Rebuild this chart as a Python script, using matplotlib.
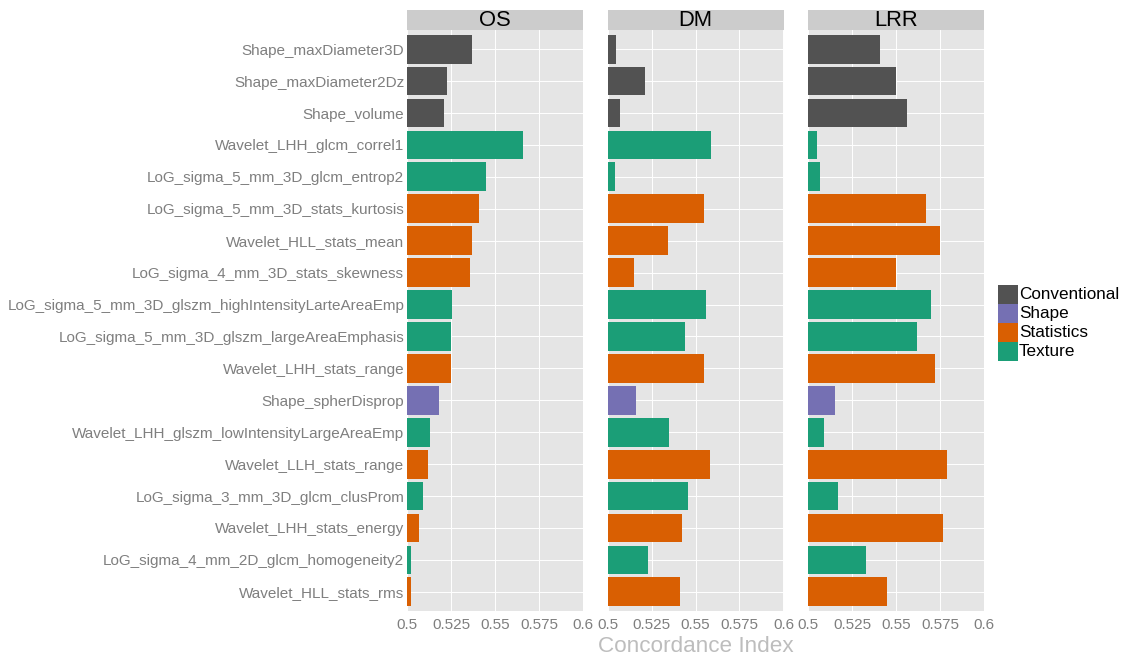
import numpy as np
import matplotlib
matplotlib.use("Agg")
import matplotlib.pyplot as plt
from matplotlib.patches import Rectangle

plt.rcParams["font.family"] = ["Liberation Sans", "DejaVu Sans"]

features = [
    "Shape_maxDiameter3D",
    "Shape_maxDiameter2Dz",
    "Shape_volume",
    "Wavelet_LHH_glcm_correl1",
    "LoG_sigma_5_mm_3D_glcm_entrop2",
    "LoG_sigma_5_mm_3D_stats_kurtosis",
    "Wavelet_HLL_stats_mean",
    "LoG_sigma_4_mm_3D_stats_skewness",
    "LoG_sigma_5_mm_3D_glszm_highIntensityLarteAreaEmp",
    "LoG_sigma_5_mm_3D_glszm_largeAreaEmphasis",
    "Wavelet_LHH_stats_range",
    "Shape_spherDisprop",
    "Wavelet_LHH_glszm_lowIntensityLargeAreaEmp",
    "Wavelet_LLH_stats_range",
    "LoG_sigma_3_mm_3D_glcm_clusProm",
    "Wavelet_LHH_stats_energy",
    "LoG_sigma_4_mm_2D_glcm_homogeneity2",
    "Wavelet_HLL_stats_rms",
]

groups = [
    "Conventional", "Conventional", "Conventional",
    "Texture", "Texture",
    "Statistics", "Statistics", "Statistics",
    "Texture", "Texture",
    "Statistics",
    "Shape",
    "Texture",
    "Statistics",
    "Texture",
    "Statistics",
    "Texture",
    "Statistics",
]

os_cindex = [0.5369, 0.5229, 0.5208, 0.5659, 0.5449, 0.5407, 0.5369, 0.5358, 0.5257,
             0.5248, 0.5248, 0.5180, 0.5129, 0.5121, 0.5089, 0.5070, 0.5021, 0.5021]
dm_cindex = [0.5051, 0.5212, 0.5070, 0.5589, 0.5042, 0.5551, 0.5341, 0.5153, 0.5561,
             0.5441, 0.5551, 0.5161, 0.5351, 0.5580, 0.5460, 0.5423, 0.5231, 0.5411]
lrr_cindex = [0.5409, 0.5500, 0.5563, 0.5049, 0.5068, 0.5669, 0.5752, 0.5500, 0.5701,
              0.5619, 0.5720, 0.5152, 0.5091, 0.5792, 0.5170, 0.5769, 0.5332, 0.5451]

panels = ["OS", "DM", "LRR"]
legend_order = ["Conventional", "Shape", "Statistics", "Texture"]
x_ticks = [0.5, 0.525, 0.55, 0.575, 0.6]

palette = {
    "Conventional": "#525252",
    "Shape": "#7570B3",
    "Statistics": "#D95F02",
    "Texture": "#1B9E77",
}

W, H = 1125, 660
fig = plt.figure(figsize=(W / 100, H / 100), dpi=100)

panel_left = [407, 607.5, 808]
panel_w = 176
panel_top, panel_bottom = 30, 611
strip_top = 10

y = np.arange(len(features))
bar_colors = [palette[g] for g in groups]
base = 0.5

for i, (name, vals) in enumerate(zip(panels, [os_cindex, dm_cindex, lrr_cindex])):
    ax = fig.add_axes([panel_left[i] / W, 1 - panel_bottom / H,
                       panel_w / W, (panel_bottom - panel_top) / H])
    ax.set_facecolor("#E5E5E5")
    ax.set_axisbelow(True)
    ax.grid(True, color="white", linewidth=0.7)
    ax.barh(y, np.array(vals) - base, left=base, height=0.9,
            color=bar_colors, edgecolor="none", zorder=2)
    ax.set_xlim(0.5, 0.6)
    ax.set_ylim(len(features) - 0.4, -0.6)
    ax.set_xticks(x_ticks)
    ax.set_xticklabels([f"{t:g}" for t in x_ticks])
    ax.set_yticks(y)
    if i == 0:
        ax.set_yticklabels(features)
    else:
        ax.set_yticklabels([])
    ax.tick_params(axis="both", length=0, colors="#7F7F7F", labelsize=11)
    ax.tick_params(axis="y", labelsize=10.95, pad=2)
    ax.tick_params(axis="x", pad=5)
    for s in ax.spines.values():
        s.set_visible(False)

    # facet strip
    sax = fig.add_axes([panel_left[i] / W, 1 - panel_top / H,
                        panel_w / W, (panel_top - strip_top) / H])
    sax.set_facecolor("#CCCCCC")
    sax.set_xticks([])
    sax.set_yticks([])
    for s in sax.spines.values():
        s.set_visible(False)
    sax.text(0.5, 0.45, name, ha="center", va="center", fontsize=15.8,
             color="black", transform=sax.transAxes)

fig.text((407 + 984) / 2 / W, 1 - 646 / H, "Concordance Index",
         ha="center", va="center", fontsize=16.2, color="#BDBDBD")

# legend
key_x, key_y0, key_w, key_h = 998, 285, 20, 19
for k, g in enumerate(legend_order):
    top = key_y0 + k * key_h
    fig.add_artist(Rectangle((key_x / W, 1 - (top + key_h) / H), key_w / W, key_h / H,
                             transform=fig.transFigure, facecolor=palette[g],
                             edgecolor="none"))
    fig.text((key_x + key_w + 1) / W, 1 - (top + key_h / 2) / H, g,
             ha="left", va="center", fontsize=12.3, color="black")

fig.savefig("out.png", dpi=100, facecolor="white")
